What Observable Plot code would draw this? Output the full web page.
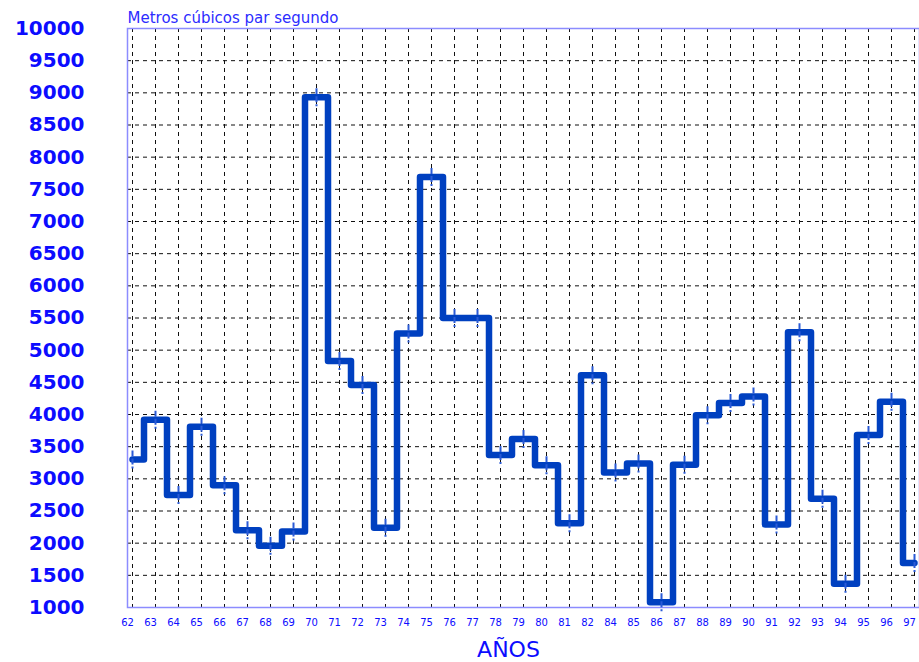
<!DOCTYPE html>
<html>
<head>
<meta charset="utf-8">
<script src="https://cdn.jsdelivr.net/npm/d3@7"></script>
<script src="https://cdn.jsdelivr.net/npm/@observablehq/plot@0.6"></script>
<style>
  html, body { margin: 0; padding: 0; background: #fff; }
  #chart { width: 919px; height: 662px; }
</style>
</head>
<body>
<div id="chart"></div>
<script>
// Years (tick labels; 83 is absent in the original)
const years = ["62","63","64","65","66","67","68","69","70","71","72","73","74","75","76","77","78","79","80","81","82",
               "84","85","86","87","88","89","90","91","92","93","94","95","96","97"];
// Caudal (m³/s)
const caudal = [3300,3920,2750,3810,2900,2200,1960,2180,8930,4830,4460,2240,5260,7690,5500,5500,3370,3620,3210,2310,4610,
                3100,3240,1080,3220,3990,4180,4280,2290,5280,2690,1370,3680,4200,1690];
const yTicks = d3.range(1000, 10001, 500);
const yTitle = "Metros cúbicos par segundo";
const xTitle = "AÑOS";

const data = years.map((y, i) => ({year: y, v: caudal[i]}));

const blue = "#0c0cff";
const vbar = {
  draw(context) {
    context.moveTo(0, -9);
    context.lineTo(0, 9);
  }
};

const chart = Plot.plot({
  width: 919,
  height: 662,
  marginLeft: 127,
  marginRight: 0,
  marginTop: 28,
  marginBottom: 55,
  style: {fontFamily: "DejaVu Sans", background: "white", overflow: "visible"},
  x: {type: "point", domain: years, padding: 0},
  y: {domain: [1000, 10000]},
  marks: [
    Plot.gridX({stroke: "#111", strokeOpacity: 1, strokeDasharray: "4,4", strokeWidth: 1}),
    Plot.gridY(yTicks, {stroke: "#111", strokeOpacity: 1, strokeDasharray: "4,4", strokeWidth: 1}),
    Plot.frame({stroke: "#8c8cff", strokeWidth: 1.5}),
    Plot.axisY(yTicks, {tickSize: 0, tickPadding: 43, tickFormat: d3.format("d"), fontSize: 20, fontWeight: "bold", fill: blue, label: null}),
    Plot.axisX({tickSize: 0, tickPadding: 11, fontSize: 10, fill: blue, dx: -5, label: null}),
    Plot.line(data, {x: "year", y: "v", curve: "step", stroke: "#0040c0", strokeWidth: 6.5}),
    Plot.dot(data, {x: "year", y: "v", symbol: vbar, r: 8, stroke: "#2a5ad6", strokeWidth: 2, strokeDasharray: "6,2"}),
    Plot.text([yTitle], {text: d => d, frameAnchor: "top-left", textAnchor: "start", lineAnchor: "bottom", dy: -6, fontSize: 15, fill: "#2c2cff"}),
    Plot.text([xTitle], {text: d => d, frameAnchor: "bottom", lineAnchor: "middle", dy: 42, dx: -15, fontSize: 22, fill: blue})
  ]
});
document.getElementById("chart").appendChild(chart);
</script>
</body>
</html>
